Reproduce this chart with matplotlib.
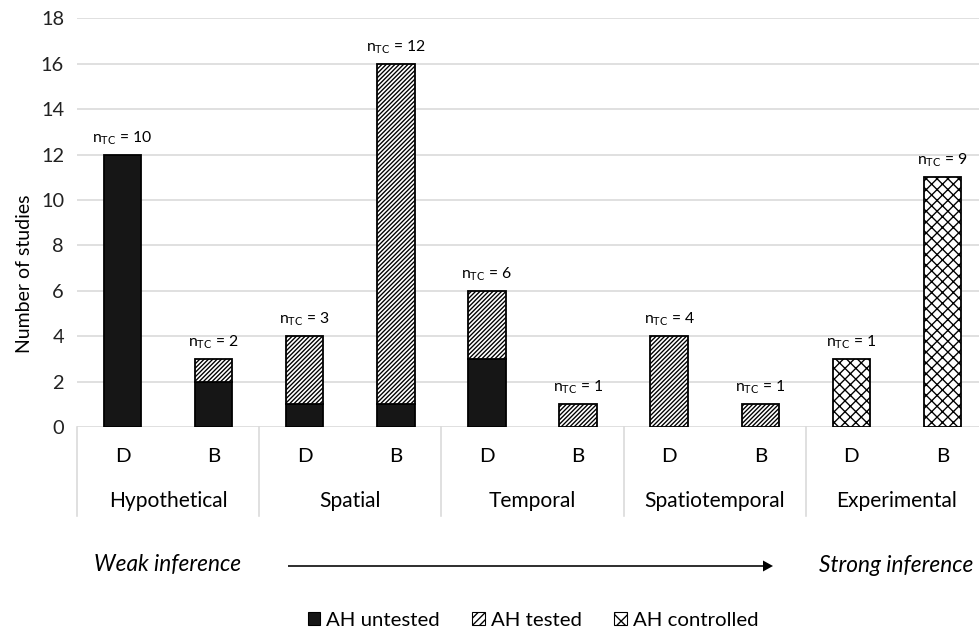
import matplotlib
matplotlib.use('Agg')
import matplotlib.pyplot as plt
from matplotlib.patches import Patch, FancyArrow
import numpy as np

# values
groups = ['Hypothetical', 'Spatial', 'Temporal', 'Spatiotemporal', 'Experimental']
subs = ['D', 'B'] * 5
untested = [12, 2, 1, 1, 3, 0, 0, 0, 0, 0]
tested = [0, 1, 3, 15, 3, 1, 4, 1, 0, 0]
controlled = [0, 0, 0, 0, 0, 0, 0, 0, 3, 11]
n_tc = [10, 2, 3, 12, 6, 1, 4, 1, 1, 9]

DPI = 130
W, H = 979, 633

plt.rcParams['font.family'] = ['Lato', 'DejaVu Sans']
plt.rcParams['mathtext.fontset'] = 'custom'
plt.rcParams['mathtext.rm'] = 'Lato'
plt.rcParams['mathtext.it'] = 'Lato:italic'
plt.rcParams['hatch.linewidth'] = 0.75
plt.rcParams['hatch.color'] = 'black'

HATCH_T = '/' * 10
HATCH_C = 'xxxx'

def pt(px):
    return px * 72.0 / DPI

fig = plt.figure(figsize=(W / DPI, H / DPI), dpi=DPI)
# plot area in pixels: left 77, right 988, y0 at 427, y18 at 18.3
ax_l, ax_r, ax_b, ax_t = 77, 988, 427, 18.3
ax = fig.add_axes([ax_l / W, (H - ax_b) / H, (ax_r - ax_l) / W, (ax_b - ax_t) / H])

x = np.arange(len(subs))
bw = 0.41
dark = '#161616'

def draw(vals, bottom, color, hatch):
    for i in range(len(vals)):
        if vals[i] > 0:
            ax.bar(x[i], vals[i], bw, bottom=bottom[i], color=color, hatch=hatch,
                   edgecolor='black', linewidth=1.0, zorder=3)

zeros = [0] * len(subs)
draw(untested, zeros, dark, None)
draw(tested, untested, 'white', HATCH_T)
base2 = [untested[i] + tested[i] for i in range(len(subs))]
draw(controlled, base2, 'white', HATCH_C)

totals = [base2[i] + controlled[i] for i in range(len(subs))]
for i in range(len(subs)):
    ax.annotate(r'n$_{\mathrm{TC}}$ = %d' % n_tc[i], (x[i], totals[i]),
                xytext=(0, pt(8)), textcoords='offset points',
                ha='center', va='bottom', fontsize=pt(15.8), zorder=4)

ax.set_xlim(-0.5, 9.5)
ax.set_ylim(0, 18)
ax.set_yticks(range(0, 19, 2))
ax.tick_params(axis='y', length=0, pad=pt(13), labelsize=pt(20), labelcolor='#222222')
ax.tick_params(axis='x', length=0, labelbottom=False)
ax.grid(axis='y', color='#d9d9d9', linewidth=pt(1.6), zorder=0)
ax.set_axisbelow(True)
for s in ax.spines.values():
    s.set_visible(False)

ax_h = ax_b - ax_t
ax.set_ylabel('Number of studies', fontsize=pt(19.5))
ax.yaxis.set_label_coords((33 - ax_l) / (ax_r - ax_l), (ax_b - 274) / ax_h)

# multi-level category axis
trans = ax.get_xaxis_transform()
line_end = -(516 - ax_b) / ax_h
for xv in [-0.5, 1.5, 3.5, 5.5, 7.5]:
    ax.plot([xv, xv], [0, line_end], transform=trans, color='#d9d9d9',
            linewidth=pt(1.6), clip_on=False)
for i in range(len(subs)):
    ax.text(x[i], -(457 - ax_b) / ax_h, subs[i], transform=trans,
            ha='center', va='center', fontsize=pt(20.5))
for g in range(len(groups)):
    ax.text(2 * g + 0.5, -(501 - ax_b) / ax_h, groups[g], transform=trans,
            ha='center', va='center', fontsize=pt(21))

# inference arrow
fig.text(168 / W, 1 - 565 / H, 'Weak inference', style='italic',
         ha='center', va='center', fontsize=pt(22.7))
fig.text(896 / W, 1 - 565 / H, 'Strong inference', style='italic',
         ha='center', va='center', fontsize=pt(22.7))
fig.patches.append(FancyArrow(
    288 / W, 1 - 566 / H, (773 - 288) / W, 0, width=1.6 / H,
    head_width=11 / H, head_length=10 / W, length_includes_head=True,
    facecolor='black', edgecolor='none', linewidth=0,
    transform=fig.transFigure, figure=fig))

handles = [Patch(facecolor=dark, edgecolor='black', linewidth=0.6, label='AH untested'),
           Patch(facecolor='white', edgecolor='black', hatch='//////', linewidth=0.6, label='AH tested'),
           Patch(facecolor='white', edgecolor='black', hatch='xxx', linewidth=0.6, label='AH controlled')]
fig.legend(handles=handles, loc='center', bbox_to_anchor=(533 / W, 1 - 620 / H),
           ncol=3, frameon=False, fontsize=pt(20.4), handlelength=0.6, handleheight=0.6,
           handletextpad=0.3, columnspacing=1.6)

fig.savefig('out.png', dpi=DPI)
